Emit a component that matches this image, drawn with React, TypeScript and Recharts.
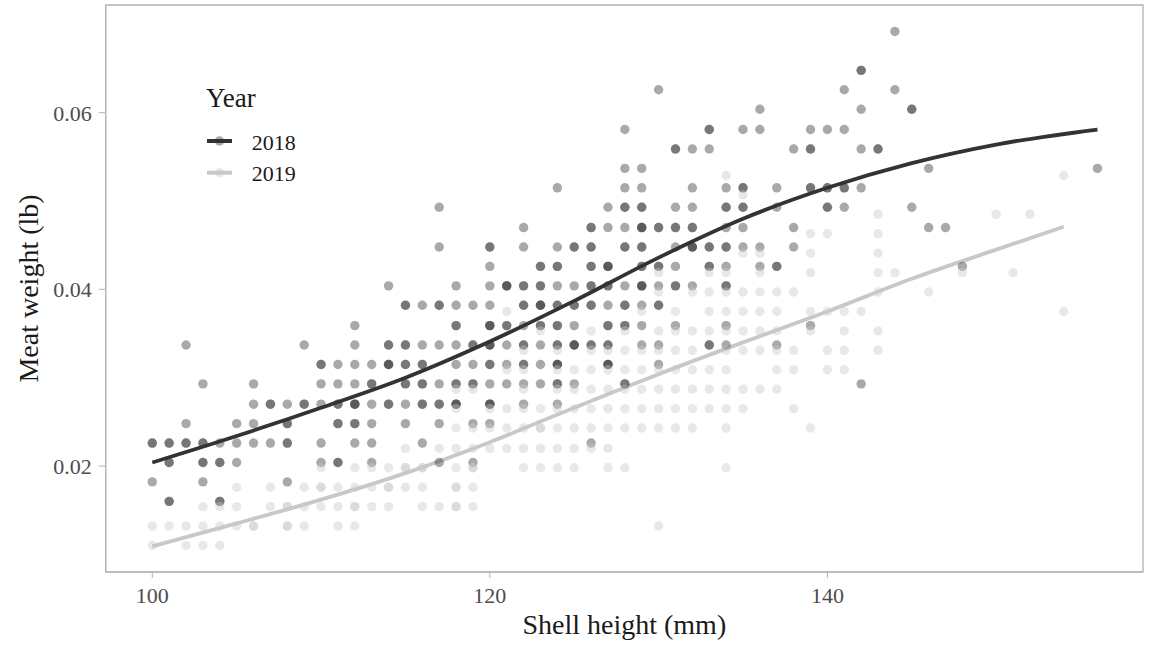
import React from 'react';
import { ComposedChart, Scatter, Line, XAxis, YAxis, ReferenceArea, Legend } from 'recharts';

const FONT = '"Liberation Serif", "Times New Roman", serif';
const DARK = '#333333';
const LIGHT = '#c8c8c8';
const BORDER = '#b3b3b3';

const X_TICKS = [100, 120, 140];
const Y_TICKS = [0.02, 0.04, 0.06];
const YEARS = ['2018', '2019'];

// shell height (mm) -> meat weights (lb)
const points2018: [number, number[]][] = [
  [100, [0.0226, 0.0226, 0.0182]],
  [101, [0.0226, 0.0226, 0.0204, 0.0204, 0.016, 0.016]],
  [102, [0.0337, 0.0248, 0.0226, 0.0226]],
  [103, [0.0293, 0.0226, 0.0226, 0.0204, 0.0204, 0.0182]],
  [104, [0.0226, 0.0204, 0.0204, 0.016, 0.016]],
  [105, [0.0248, 0.0226, 0.0204]],
  [106, [0.0293, 0.027, 0.0248, 0.0226]],
  [107, [0.027, 0.027, 0.0226]],
  [108, [0.027, 0.0248, 0.0248, 0.0226, 0.0226, 0.0182]],
  [109, [0.0337, 0.027, 0.027]],
  [110, [0.0315, 0.0315, 0.0293, 0.027, 0.0226, 0.0204]],
  [111, [0.0315, 0.0293, 0.027, 0.027, 0.0248, 0.0248, 0.0204, 0.0204]],
  [112, [0.0359, 0.0337, 0.0315, 0.0293, 0.027, 0.027, 0.027, 0.0248, 0.0248, 0.0226]],
  [113, [0.0315, 0.0293, 0.0293, 0.027, 0.0248, 0.0226, 0.0204]],
  [114, [0.0404, 0.0337, 0.0337, 0.0315, 0.0315, 0.0315, 0.027, 0.027]],
  [115, [0.0382, 0.0382, 0.0337, 0.0337, 0.0315, 0.0315, 0.0293, 0.0293, 0.027, 0.0248]],
  [116, [0.0382, 0.0337, 0.0315, 0.0315, 0.0293, 0.0293, 0.027, 0.027, 0.0226]],
  [117, [0.0493, 0.0448, 0.0382, 0.0382, 0.0337, 0.0293, 0.027, 0.027, 0.0248, 0.0204]],
  [118, [0.0404, 0.0382, 0.0359, 0.0359, 0.0337, 0.0315, 0.0293, 0.0293, 0.027, 0.027, 0.027]],
  [119, [0.0382, 0.0337, 0.0337, 0.0315, 0.0293, 0.0293, 0.0248, 0.0204]],
  [120, [0.0448, 0.0448, 0.0426, 0.0404, 0.0382, 0.0359, 0.0359, 0.0359, 0.0337, 0.0337, 0.0337, 0.0315, 0.0315, 0.0293, 0.027, 0.027, 0.027, 0.0248]],
  [121, [0.0404, 0.0404, 0.0404, 0.0359, 0.0359, 0.0337, 0.0315, 0.0293]],
  [122, [0.047, 0.0448, 0.0404, 0.0404, 0.0382, 0.0382, 0.0359, 0.0337, 0.0337, 0.0315, 0.0315, 0.0293, 0.027]],
  [123, [0.0426, 0.0426, 0.0404, 0.0404, 0.0382, 0.0382, 0.0382, 0.0359, 0.0359, 0.0337, 0.0315, 0.0293]],
  [124, [0.0515, 0.0448, 0.0426, 0.0426, 0.0404, 0.0382, 0.0382, 0.0359, 0.0359, 0.0337, 0.0337, 0.0315, 0.0315, 0.0315, 0.0293, 0.0293, 0.027]],
  [125, [0.0448, 0.0448, 0.0404, 0.0382, 0.0382, 0.0359, 0.0337, 0.0337, 0.0337, 0.0293]],
  [126, [0.047, 0.047, 0.0448, 0.0448, 0.0426, 0.0426, 0.0404, 0.0404, 0.0382, 0.0382, 0.0337, 0.0337, 0.0226]],
  [127, [0.0493, 0.047, 0.0426, 0.0426, 0.0426, 0.0404, 0.0404, 0.0382, 0.0359, 0.0359, 0.0337, 0.0337, 0.0315, 0.0315, 0.0315]],
  [128, [0.0581, 0.0537, 0.0515, 0.0493, 0.0493, 0.047, 0.0448, 0.0448, 0.0404, 0.0382, 0.0382, 0.0359, 0.0359, 0.0293, 0.0293]],
  [129, [0.0537, 0.0515, 0.0493, 0.0493, 0.047, 0.047, 0.047, 0.0448, 0.0448, 0.0426, 0.0426, 0.0404, 0.0404, 0.0404, 0.0382, 0.0359, 0.0337]],
  [130, [0.0626, 0.047, 0.047, 0.0426, 0.0426, 0.0404, 0.0382, 0.0382, 0.0337, 0.0315]],
  [131, [0.0559, 0.0559, 0.0493, 0.047, 0.047, 0.0448, 0.0426, 0.0404, 0.0404, 0.0359]],
  [132, [0.0559, 0.0515, 0.0493, 0.047, 0.047, 0.0448, 0.0448, 0.0448, 0.0404]],
  [133, [0.0581, 0.0581, 0.0559, 0.0448, 0.0448, 0.0426, 0.0426, 0.0337, 0.0337]],
  [134, [0.0515, 0.0493, 0.0493, 0.047, 0.0448, 0.0448, 0.0426, 0.0404, 0.0404, 0.0359, 0.0337]],
  [135, [0.0581, 0.0515, 0.0515, 0.0493, 0.0493, 0.047, 0.0448]],
  [136, [0.0604, 0.0581, 0.0448, 0.0426]],
  [137, [0.0515, 0.0493, 0.0426, 0.0426, 0.0337]],
  [138, [0.0559, 0.047, 0.0448]],
  [139, [0.0581, 0.0559, 0.0559, 0.0515, 0.0515, 0.0359]],
  [140, [0.0581, 0.0515, 0.0515, 0.0493, 0.0493]],
  [141, [0.0626, 0.0581, 0.0515, 0.0515, 0.0493]],
  [142, [0.0648, 0.0648, 0.0604, 0.0559, 0.0515, 0.0293]],
  [143, [0.0559, 0.0559]],
  [144, [0.0692, 0.0626]],
  [145, [0.0604, 0.0604, 0.0493]],
  [146, [0.0537, 0.047]],
  [147, [0.047]],
  [148, [0.0426]],
  [156, [0.0537]],
];

const points2019: [number, number[]][] = [
  [100, [0.0132, 0.011]],
  [101, [0.0132]],
  [102, [0.0132, 0.011]],
  [103, [0.0154, 0.0132, 0.011]],
  [104, [0.0154, 0.0132, 0.011]],
  [105, [0.0176, 0.0154, 0.0132]],
  [106, [0.0132, 0.0132]],
  [107, [0.0176, 0.0154]],
  [108, [0.0154, 0.0154, 0.0132, 0.0132]],
  [109, [0.0176, 0.0154, 0.0132]],
  [110, [0.0198, 0.0176, 0.0176, 0.0154]],
  [111, [0.0176, 0.0154, 0.0132]],
  [112, [0.0198, 0.0176, 0.0154, 0.0154, 0.0132]],
  [113, [0.0198, 0.0176, 0.0154]],
  [114, [0.0198, 0.0176, 0.0176, 0.0154]],
  [115, [0.022, 0.0198, 0.0198, 0.0176]],
  [116, [0.0198, 0.0198, 0.0176, 0.0154]],
  [117, [0.022, 0.0154]],
  [118, [0.0287, 0.0265, 0.0243, 0.022, 0.0198, 0.0176, 0.0176, 0.0154, 0.0154]],
  [119, [0.0287, 0.0243, 0.022, 0.0198, 0.0198, 0.0176, 0.0154]],
  [120, [0.0265, 0.0243, 0.022]],
  [121, [0.0375, 0.0309, 0.0265, 0.0243, 0.022]],
  [122, [0.0331, 0.0309, 0.0287, 0.0265, 0.0243, 0.022, 0.0198]],
  [123, [0.0353, 0.0265, 0.0243, 0.0243, 0.022, 0.0198]],
  [124, [0.0331, 0.0309, 0.0287, 0.0265, 0.0243, 0.022, 0.0198]],
  [125, [0.0309, 0.0287, 0.0265, 0.0243, 0.022, 0.0198]],
  [126, [0.0353, 0.0331, 0.0309, 0.0287, 0.0265, 0.0243, 0.022]],
  [127, [0.0331, 0.0309, 0.0287, 0.0265, 0.0243, 0.022, 0.0198]],
  [128, [0.0353, 0.0331, 0.0309, 0.0287, 0.0265, 0.0243, 0.0198]],
  [129, [0.0375, 0.0331, 0.0309, 0.0287, 0.0265, 0.0243]],
  [130, [0.0419, 0.0397, 0.0353, 0.0331, 0.0309, 0.0287, 0.0265, 0.0243, 0.0132]],
  [131, [0.0375, 0.0353, 0.0331, 0.0309, 0.0287, 0.0265, 0.0243]],
  [132, [0.0397, 0.0353, 0.0331, 0.0309, 0.0287, 0.0265, 0.0243]],
  [133, [0.0419, 0.0397, 0.0375, 0.0353, 0.0309, 0.0287, 0.0265]],
  [134, [0.0529, 0.0419, 0.0397, 0.0375, 0.0353, 0.0331, 0.0309, 0.0287, 0.0265, 0.0243, 0.0198]],
  [135, [0.0507, 0.0441, 0.0397, 0.0375, 0.0353, 0.0331, 0.0287, 0.0265]],
  [136, [0.0441, 0.0419, 0.0397, 0.0375, 0.0353, 0.0331, 0.0287]],
  [137, [0.0397, 0.0375, 0.0353, 0.0331, 0.0309, 0.0287]],
  [138, [0.0397, 0.0331, 0.0309, 0.0265]],
  [139, [0.0463, 0.0441, 0.0419, 0.0375, 0.0353, 0.0243]],
  [140, [0.0463, 0.0375, 0.0331, 0.0309]],
  [141, [0.0375, 0.0353, 0.0331, 0.0309]],
  [142, [0.0375]],
  [143, [0.0485, 0.0463, 0.0441, 0.0419, 0.0397, 0.0353, 0.0331]],
  [144, [0.0419]],
  [146, [0.0397]],
  [148, [0.0419]],
  [150, [0.0485]],
  [151, [0.0419]],
  [152, [0.0485]],
  [154, [0.0529, 0.0375]],
];

// smoothed fit lines
const fit2018: [number, number][] = [
  [100, 0.0204], [105, 0.0234], [110, 0.0266], [115, 0.03], [120, 0.0341],
  [125, 0.0387], [130, 0.0436], [135, 0.048], [140, 0.0515], [145, 0.0543],
  [150, 0.0564], [156, 0.0581],
];

const fit2019: [number, number][] = [
  [100, 0.0109], [105, 0.0135], [110, 0.0162], [115, 0.0192], [120, 0.0227],
  [125, 0.0266], [130, 0.0304], [135, 0.034], [140, 0.0375], [145, 0.0412],
  [150, 0.0445], [154, 0.0471],
];

const toXY = (cols: [number, number[]][]) =>
  cols.flatMap(([x, ys]) => ys.map((y) => ({ x, y })));
const pairs = (arr: [number, number][]) => arr.map(([x, y]) => ({ x, y }));

const dot = (fill: string) => (props: any) => (
  <circle cx={props.cx} cy={props.cy} r={4.7} fill={fill} fillOpacity={0.42} />
);

const YearLegend = () => (
  <svg width={160} height={120} style={{ overflow: 'visible' }}>
    <text x={6} y={26.7} fontSize={27} fontFamily={FONT} fill="#1a1a1a">
      Year
    </text>
    {YEARS.map((yr, i) => {
      const cy = 61 + i * 31.7;
      const color = i === 0 ? DARK : LIGHT;
      return (
        <g key={yr}>
          <line x1={7} x2={32} y1={cy} y2={cy} stroke={color} strokeWidth={4} />
          <circle cx={19.5} cy={cy} r={4.7} fill={color} fillOpacity={0.42} />
          <text x={51.7} y={cy + 8.5} fontSize={22} fontFamily={FONT} fill="#1a1a1a">
            {yr}
          </text>
        </g>
      );
    })}
  </svg>
);

export default function App() {
  return (
    <div style={{ position: 'absolute', left: 0, top: 0, background: '#fff' }}>
      <ComposedChart width={1153} height={649} margin={{ top: 5, right: 10, bottom: 0, left: 0 }}>
        <XAxis
          type="number"
          dataKey="x"
          domain={[97.24, 158.7]}
          allowDataOverflow
          ticks={X_TICKS}
          height={77}
          tickSize={6}
          tickMargin={9}
          axisLine={{ stroke: BORDER }}
          tickLine={{ stroke: BORDER }}
          tick={{ fill: '#4d4d4d', fontSize: 22, fontFamily: FONT }}
          label={{
            value: 'Shell height (mm)',
            position: 'insideBottom',
            offset: 15,
            fill: '#1a1a1a',
            fontSize: 28,
            fontFamily: FONT,
          }}
        />
        <YAxis
          type="number"
          dataKey="y"
          domain={[0.008, 0.0722]}
          allowDataOverflow
          ticks={Y_TICKS}
          width={105.7}
          tickSize={7}
          tickMargin={7}
          axisLine={{ stroke: BORDER }}
          tickLine={{ stroke: BORDER }}
          tick={{ fill: '#4d4d4d', fontSize: 22, fontFamily: FONT }}
          label={{
            value: 'Meat weight (lb)',
            angle: -90,
            position: 'insideLeft',
            offset: 28,
            fill: '#1a1a1a',
            fontSize: 28,
            fontFamily: FONT,
            style: { textAnchor: 'middle' },
          }}
        />
        <ReferenceArea
          x1={97.24}
          x2={158.7}
          y1={0.008}
          y2={0.0722}
          fill="none"
          stroke={BORDER}
          strokeWidth={1.3}
        />
        <Scatter name="2018" data={toXY(points2018)} shape={dot(DARK)} isAnimationActive={false} />
        <Scatter name="2019" data={toXY(points2019)} shape={dot(LIGHT)} isAnimationActive={false} />
        <Line
          data={pairs(fit2018)}
          dataKey="y"
          type="monotone"
          stroke={DARK}
          strokeWidth={3.8}
          dot={false}
          activeDot={false}
          isAnimationActive={false}
          legendType="none"
        />
        <Line
          data={pairs(fit2019)}
          dataKey="y"
          type="monotone"
          stroke={LIGHT}
          strokeWidth={3.8}
          dot={false}
          activeDot={false}
          isAnimationActive={false}
          legendType="none"
        />
        <Legend
          layout="vertical"
          align="center"
          verticalAlign="middle"
          content={() => <YearLegend />}
          wrapperStyle={{ left: 200, top: 80, width: 160, height: 120 }}
        />
      </ComposedChart>
    </div>
  );
}
